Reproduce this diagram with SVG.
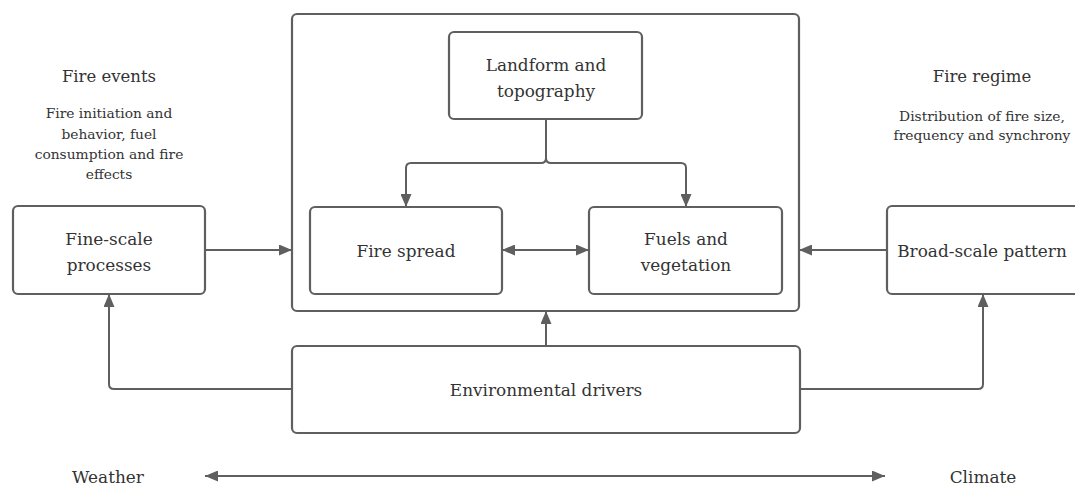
<svg xmlns="http://www.w3.org/2000/svg" width="1075" height="486" viewBox="0 0 1075 486">
  <defs>
    <marker id="ah" markerUnits="userSpaceOnUse" markerWidth="13" markerHeight="11" refX="13" refY="5.5" orient="auto-start-reverse" viewBox="0 0 13 11">
      <path d="M0,0 L13,5.5 L0,11 z" fill="#5f5f5f"/>
    </marker>
  </defs>
  <style>
    .box { fill: #ffffff; stroke: #5f5f5f; stroke-width: 2.2; }
    .lbl { font-family: "DejaVu Serif", "Liberation Serif", serif; font-size: 16.9px; fill: #333333; text-anchor: middle; }
    .hd { font-family: "DejaVu Serif", "Liberation Serif", serif; font-size: 16.5px; fill: #333333; text-anchor: middle; }
    .sm { font-family: "DejaVu Serif", "Liberation Serif", serif; font-size: 13.8px; fill: #333333; text-anchor: middle; }
    .con { fill: none; stroke: #5f5f5f; stroke-width: 2; }
  </style>
  <rect width="1075" height="486" fill="#ffffff"/>

  <g id="container">
    <rect class="box" x="292" y="14" width="507" height="297" rx="5"/>
  </g>

  <g id="landform">
    <rect class="box" x="449" y="32" width="193" height="87" rx="5"/>
    <text class="lbl" x="546" y="71">Landform and</text>
    <text class="lbl" x="546" y="97">topography</text>
  </g>

  <g id="fire-spread">
    <rect class="box" x="310" y="207" width="192" height="87" rx="5"/>
    <text class="lbl" x="406" y="257">Fire spread</text>
  </g>

  <g id="fuels">
    <rect class="box" x="589" y="207" width="193" height="87" rx="5"/>
    <text class="lbl" x="686" y="245">Fuels and</text>
    <text class="lbl" x="686" y="271">vegetation</text>
  </g>

  <g id="fine-scale">
    <rect class="box" x="13" y="206" width="192" height="88" rx="5"/>
    <text class="lbl" x="109" y="245">Fine-scale</text>
    <text class="lbl" x="109" y="271">processes</text>
  </g>

  <g id="broad-scale">
    <rect class="box" x="887" y="206" width="194" height="88" rx="5"/>
    <text class="lbl" x="982" y="257">Broad-scale pattern</text>
  </g>

  <g id="env-drivers">
    <rect class="box" x="292" y="346" width="508" height="87" rx="5"/>
    <text class="lbl" x="546" y="396">Environmental drivers</text>
  </g>

  <g id="fire-events">
    <text class="hd" x="109" y="82">Fire events</text>
    <text class="sm" x="109" y="118">Fire initiation and</text>
    <text class="sm" x="109" y="139">behavior, fuel</text>
    <text class="sm" x="109" y="159">consumption and fire</text>
    <text class="sm" x="109" y="179">effects</text>
  </g>

  <g id="fire-regime">
    <text class="hd" x="982" y="82">Fire regime</text>
    <text class="sm" x="982" y="121" font-size="14.3">Distribution of fire size,</text>
    <text class="sm" x="982" y="140" font-size="14.3">frequency and synchrony</text>
  </g>

  <g id="scale-axis">
    <text class="lbl" x="108" y="483">Weather</text>
    <text class="lbl" x="983" y="483">Climate</text>
  </g>

  <g id="connectors">
    <path class="con" d="M546 119 V158 Q546 163 541 163 H411 Q406 163 406 168 V207" marker-end="url(#ah)"/>
    <path class="con" d="M546 158 Q546 163 551 163 H681 Q686 163 686 168 V207" marker-end="url(#ah)"/>
    <path class="con" d="M502 250 H589" marker-start="url(#ah)" marker-end="url(#ah)"/>
    <path class="con" d="M205 250 H292" marker-end="url(#ah)"/>
    <path class="con" d="M887 250 H799" marker-end="url(#ah)"/>
    <path class="con" d="M546 346 V311" marker-end="url(#ah)"/>
    <path class="con" d="M292 389 H114 Q109 389 109 384 V294" marker-end="url(#ah)"/>
    <path class="con" d="M800 389 H978 Q983 389 983 384 V294" marker-end="url(#ah)"/>
    <path class="con" d="M205 476 H885" marker-start="url(#ah)" marker-end="url(#ah)"/>
  </g>
</svg>
